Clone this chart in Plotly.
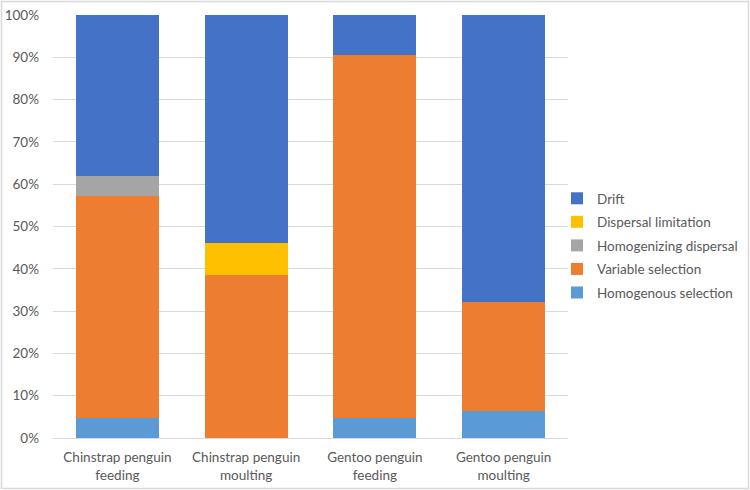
import plotly.graph_objects as go

categories = ["Chinstrap penguin<br>feeding", "Chinstrap penguin<br>moulting",
              "Gentoo penguin<br>feeding", "Gentoo penguin<br>moulting"]
homogenous_selection = [4.76, 0.0, 4.76, 6.45]
variable_selection = [52.38, 38.46, 85.71, 25.81]
homogenizing_dispersal = [4.76, 0.0, 0.0, 0.0]
dispersal_limitation = [0.0, 7.69, 0.0, 0.0]
drift = [38.10, 53.85, 9.52, 67.74]
y_ticks = [0, 10, 20, 30, 40, 50, 60, 70, 80, 90, 100]
y_tick_labels = [f"{v}%" for v in y_ticks]

series = [
    ("Homogenous selection", homogenous_selection, "#5B9BD5"),
    ("Variable selection", variable_selection, "#ED7D31"),
    ("Homogenizing dispersal", homogenizing_dispersal, "#A5A5A5"),
    ("Dispersal limitation", dispersal_limitation, "#FFC000"),
    ("Drift", drift, "#4472C4"),
]

fig = go.Figure()
for i, (name, vals, col) in enumerate(series):
    fig.add_trace(go.Bar(x=categories, y=vals, name=name, marker_color=col,
                         marker_line_width=0, legendgroup=name,
                         legendrank=100 - i))

W, H = 750, 490
L, T, B = 53, 15, 52
plot_right = 568
pw_paper = W - L          # paper width (right margin 0)
ph = H - T - B

def px(x):
    return (x - L) / pw_paper

def py(y):
    return (H - B - y) / ph

FONT = "Lato, Open Sans, sans-serif"
fig.update_layout(
    width=W, height=H,
    barmode="stack", bargap=0.355,
    margin=dict(l=L, r=0, t=T, b=B, autoexpand=False),
    paper_bgcolor="white", plot_bgcolor="white",
    font=dict(family=FONT, size=13.5, color="#595959"),
    showlegend=True,
    legend=dict(x=px(557), y=py(183), xanchor="left", yanchor="top",
                traceorder="grouped", font=dict(size=13.5, color="#595959"),
                itemwidth=30, tracegroupgap=3, bgcolor="rgba(0,0,0,0)"),
    yaxis=dict(range=[0, 100], tickvals=y_ticks, ticktext=y_tick_labels,
               showgrid=True, gridcolor="#D9D9D9", gridwidth=1, zeroline=False,
               showline=False, ticks="", ticklabelstandoff=13, automargin=False),
    xaxis=dict(domain=[0, px(plot_right)], showgrid=False, showline=True,
               linecolor="#D9D9D9", ticks="", automargin=False,
               ticklabelstandoff=7, tickfont=dict(size=13.5)),
    shapes=[dict(type="rect", xref="paper", yref="paper",
                 x0=px(1.5), x1=px(748.5), y0=py(488.5), y1=py(1.5),
                 line=dict(color="#D9D9D9", width=1.5), fillcolor="rgba(0,0,0,0)",
                 layer="below")],
)

fig.write_html("out.html",
               config={"displayModeBar": False},
               post_script="document.body.style.margin='0';document.body.style.overflow='hidden';")
